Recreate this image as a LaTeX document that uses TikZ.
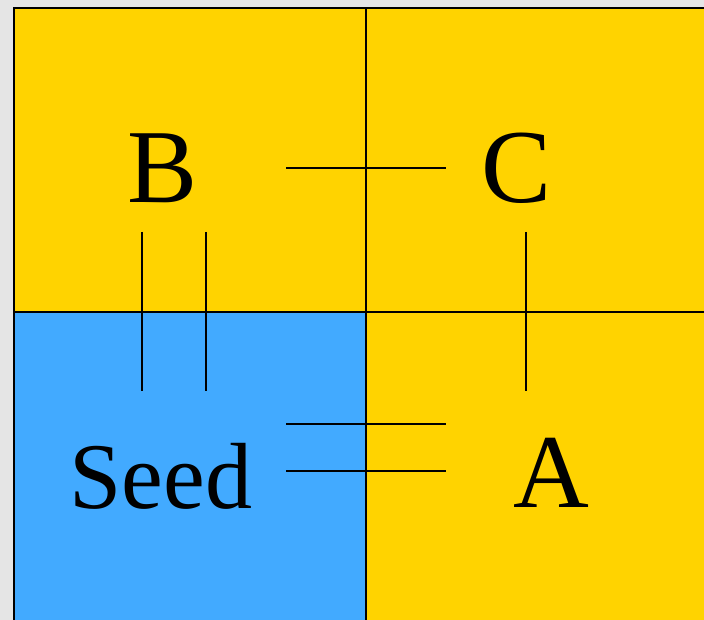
\documentclass[tikz,border=0pt]{standalone}
\usepackage{fontspec}
\setmainfont{Liberation Serif}
\definecolor{bggray}{HTML}{E5E5E5}
\definecolor{cellyellow}{HTML}{FFD300}
\definecolor{cellblue}{HTML}{42AAFF}
\tikzset{
  cell/.style={draw=black, line width=2pt},
  bigletter/.style={anchor=base, inner sep=0pt, font=\fontsize{105}{105}\selectfont},
  seedtext/.style={anchor=base, inner sep=0pt, font=\fontsize{94}{94}\selectfont},
  link/.style={draw=black, line width=2pt},
}
\begin{document}
\begin{tikzpicture}[x=1pt, y=-1pt]
\useasboundingbox (0,0) rectangle (704,620);
\fill[bggray] (0,0) rectangle (704,620);
\begin{scope}
\clip (0,0) rectangle (704,620);
\path[cell, fill=cellyellow] (14,8) rectangle (366,312);
\path[cell, fill=cellyellow] (366,8) rectangle (720,312);
\path[cell, fill=cellblue] (14,312) rectangle (366,640);
\path[cell, fill=cellyellow] (366,312) rectangle (720,640);
\end{scope}
\node[bigletter] (B) at (163,203) {B};
\node[bigletter] (C) at (517,203) {C};
\node[bigletter] (A) at (551,507) {A};
\node[seedtext] (Seed) at (161,508) {Seed};
% connector end points
\coordinate (bc1) at (286,168); \coordinate (bc2) at (446,168);
\coordinate (bs1a) at (142,232); \coordinate (bs1b) at (142,391);
\coordinate (bs2a) at (206,232); \coordinate (bs2b) at (206,391);
\coordinate (ca1) at (526,232); \coordinate (ca2) at (526,391);
\coordinate (sa1a) at (286,424); \coordinate (sa1b) at (446,424);
\coordinate (sa2a) at (286,471); \coordinate (sa2b) at (446,471);
\draw[link] (bc1) -- (bc2);
\draw[link] (bs1a) -- (bs1b);
\draw[link] (bs2a) -- (bs2b);
\draw[link] (ca1) -- (ca2);
\draw[link] (sa1a) -- (sa1b);
\draw[link] (sa2a) -- (sa2b);
\end{tikzpicture}
\end{document}
